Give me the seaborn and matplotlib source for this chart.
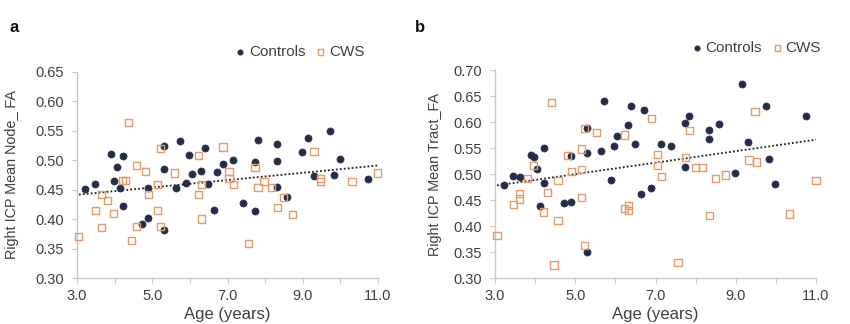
import numpy as np
import pandas as pd
import matplotlib
matplotlib.use("Agg")
import matplotlib.pyplot as plt
import seaborn as sns

# ---------------- data ----------------
a_ctrl_age = [3.21, 3.48, 3.90, 3.98, 4.06, 4.22, 4.14, 4.22, 4.73, 4.89, 4.89, 5.31, 5.31, 5.31,
              5.63, 5.74, 5.90, 5.98, 6.06, 6.30, 6.40, 6.48, 6.64, 6.72, 6.88, 7.15, 7.41, 7.73,
              7.73, 7.81, 8.32, 8.32, 8.32, 8.59, 8.98, 9.14, 9.30, 9.73, 9.83, 9.99, 10.74]
a_ctrl_fa = [0.451, 0.459, 0.510, 0.464, 0.488, 0.507, 0.453, 0.422, 0.392, 0.402, 0.453, 0.524, 0.485, 0.381,
             0.453, 0.532, 0.461, 0.508, 0.476, 0.481, 0.520, 0.459, 0.415, 0.480, 0.493, 0.500, 0.427, 0.414,
             0.497, 0.534, 0.527, 0.498, 0.454, 0.437, 0.514, 0.537, 0.473, 0.549, 0.475, 0.502, 0.468]
a_cws_age = [3.05, 3.48, 3.64, 3.64, 3.82, 3.98, 4.22, 4.30, 4.38, 4.46, 4.57, 4.57, 4.81, 4.89,
             5.15, 5.15, 5.23, 5.23, 5.58, 6.22, 6.24, 6.30, 6.30, 6.88, 7.04, 7.04, 7.15, 7.57,
             7.73, 7.81, 7.97, 8.16, 8.32, 8.48, 8.72, 9.30, 9.46, 9.46, 10.31, 10.98]
a_cws_fa = [0.371, 0.414, 0.441, 0.386, 0.431, 0.410, 0.466, 0.466, 0.563, 0.363, 0.491, 0.388, 0.481, 0.442,
            0.458, 0.414, 0.519, 0.388, 0.478, 0.441, 0.508, 0.459, 0.400, 0.522, 0.481, 0.468, 0.458, 0.359,
            0.488, 0.453, 0.464, 0.454, 0.420, 0.437, 0.407, 0.515, 0.469, 0.463, 0.464, 0.478]

b_ctrl_age = [3.22, 3.45, 3.62, 3.90, 3.97, 4.05, 4.12, 4.22, 4.22, 4.72, 4.90, 4.90, 5.29, 5.29,
              5.29, 5.64, 5.72, 5.90, 5.97, 6.04, 6.32, 6.39, 6.49, 6.64, 6.72, 6.90, 7.13, 7.39,
              7.74, 7.74, 7.84, 8.34, 8.34, 8.59, 8.99, 9.16, 9.31, 9.76, 9.83, 9.98, 10.76]
b_ctrl_fa = [0.479, 0.496, 0.494, 0.537, 0.533, 0.510, 0.438, 0.550, 0.483, 0.444, 0.446, 0.535, 0.588, 0.540,
             0.350, 0.544, 0.640, 0.488, 0.554, 0.573, 0.594, 0.631, 0.558, 0.462, 0.623, 0.474, 0.558, 0.554,
             0.598, 0.513, 0.612, 0.585, 0.567, 0.596, 0.502, 0.673, 0.562, 0.631, 0.529, 0.481, 0.612]
b_cws_age = [3.05, 3.45, 3.62, 3.62, 3.80, 3.97, 4.22, 4.30, 4.40, 4.47, 4.57, 4.57, 4.80, 4.90,
             5.15, 5.15, 5.15, 5.22, 5.22, 5.54, 6.22, 6.22, 6.32, 6.32, 6.89, 7.06, 7.06, 7.15,
             7.56, 7.74, 7.84, 7.99, 8.16, 8.34, 8.49, 8.74, 9.33, 9.48, 9.51, 10.33, 11.00]
b_cws_fa = [0.381, 0.442, 0.463, 0.452, 0.492, 0.517, 0.427, 0.465, 0.638, 0.325, 0.487, 0.410, 0.535, 0.504,
            0.548, 0.508, 0.454, 0.588, 0.363, 0.579, 0.575, 0.433, 0.440, 0.429, 0.606, 0.537, 0.517, 0.495,
            0.329, 0.531, 0.583, 0.513, 0.513, 0.421, 0.492, 0.498, 0.527, 0.621, 0.523, 0.423, 0.487]

x_ticks = [3.0, 5.0, 7.0, 9.0, 11.0]
a_yticks = [0.30, 0.35, 0.40, 0.45, 0.50, 0.55, 0.60, 0.65]
b_yticks = [0.30, 0.35, 0.40, 0.45, 0.50, 0.55, 0.60, 0.65, 0.70]
group_names = ["Controls", "CWS"]
a_ylabel = "Right ICP Mean Node_ FA"
b_ylabel = "Right ICP Mean Tract_FA"
x_label = "Age (years)"

# ---------------- style ----------------
sns.set_theme(style="white")
plt.rcParams["font.family"] = ["Liberation Sans", "DejaVu Sans"]

NAVY = "#262d48"
ORANGE = "#e59a6c"
SPINE = "#c8c8c8"
TXT = "#404040"

fig = plt.figure(figsize=(8.5, 3.24), dpi=100)
ax_a = fig.add_axes([77 / 850, 1 - 278 / 324, 301 / 850, 206.5 / 324])
ax_b = fig.add_axes([495 / 850, 1 - 278 / 324, 321 / 850, 208 / 324])


def panel(ax, c_age, c_fa, w_age, w_fa, yticks, ylabel, ylabelpad, leg_anchor):
    dc = pd.DataFrame({"age": c_age, "fa": c_fa})
    dw = pd.DataFrame({"age": w_age, "fa": w_fa})
    sns.scatterplot(data=dc, x="age", y="fa", ax=ax, marker="o", s=26,
                    color=NAVY, edgecolor=NAVY, linewidth=0.5, label=group_names[0],
                    zorder=3, clip_on=False)
    sns.scatterplot(data=dw, x="age", y="fa", ax=ax, marker="s", s=26,
                    facecolor="none", edgecolor=ORANGE, linewidth=1.0, label=group_names[1],
                    zorder=3, clip_on=False)
    allp = pd.concat([dc, dw])
    sns.regplot(data=allp, x="age", y="fa", ax=ax, scatter=False, ci=None, truncate=True,
                line_kws=dict(color="#202020", lw=1.3, ls=(0, (1, 1.2))))
    ax.set_xlim(3.0, 11.0)
    ax.set_ylim(yticks[0], yticks[-1])
    ax.set_xticks(x_ticks)
    ax.set_xticks([4, 6, 8, 10], minor=True)
    ax.set_xticklabels([f"{v:.1f}" for v in x_ticks])
    ax.set_yticks(yticks)
    ax.set_yticklabels([f"{v:.2f}" for v in yticks])
    ax.tick_params(axis="both", which="both", direction="out", length=3.8, width=0.8,
                   color=SPINE, labelcolor=TXT, labelsize=10.5)
    ax.tick_params(axis="x", which="both", bottom=True, pad=4)
    ax.tick_params(axis="y", which="both", left=True, pad=5.5)
    for s in ["top", "right"]:
        ax.spines[s].set_visible(False)
    for s in ["left", "bottom"]:
        ax.spines[s].set_color(SPINE)
        ax.spines[s].set_linewidth(1.0)
    ax.set_xlabel(x_label, fontsize=12, color=TXT, labelpad=3)
    ax.set_ylabel(ylabel, fontsize=10.4, color=TXT, labelpad=ylabelpad)
    ax.legend(loc="center right", bbox_to_anchor=leg_anchor, ncol=2, frameon=False,
              fontsize=11, handletextpad=0.25, columnspacing=0.7, handlelength=0.6,
              markerscale=0.75, labelcolor=TXT, borderaxespad=0, borderpad=0)


panel(ax_a, a_ctrl_age, a_ctrl_fa, a_cws_age, a_cws_fa, a_yticks, a_ylabel, 12, (0.955, 1.094))
panel(ax_b, b_ctrl_age, b_ctrl_fa, b_cws_age, b_cws_fa, b_yticks, b_ylabel, 8, (1.016, 1.106))

fig.text(14 / 850, 1 - 27 / 324, "a", fontsize=12, fontweight="bold", va="center", ha="center", color="#111111")
fig.text(420 / 850, 1 - 27 / 324, "b", fontsize=12, fontweight="bold", va="center", ha="center", color="#111111")

fig.savefig("out.png", dpi=100)
